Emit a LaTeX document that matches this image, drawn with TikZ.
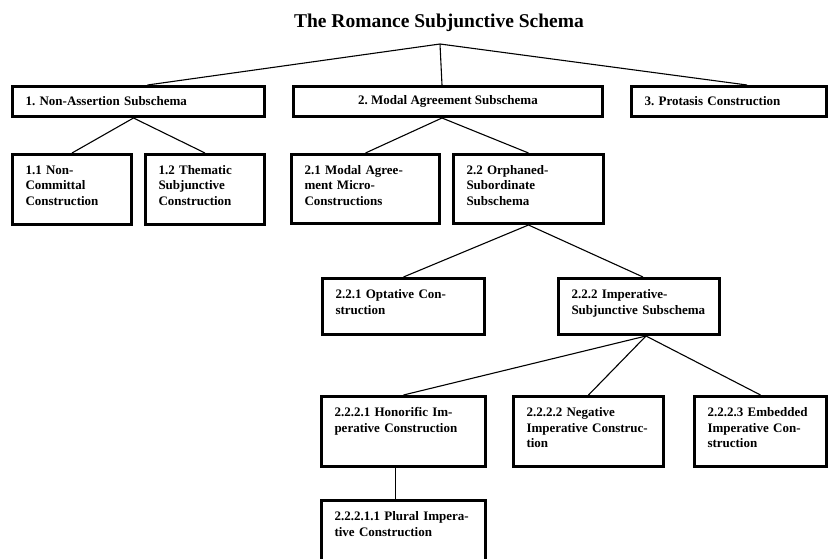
\documentclass[tikz,border=0pt]{standalone}
\usepackage{fontspec}
\setmainfont{Liberation Serif}
\frenchspacing
\begin{document}
\begin{tikzpicture}[
                x=1pt, y=-1pt,
                every node/.style={font=\bfseries\fontsize{13}{15.5}\selectfont},
                headbox/.style={draw, line width=3pt, anchor=north west, minimum height=30pt, inner xsep=13pt},
                schemabox/.style 2 args={draw, line width=3pt, anchor=north west, align=left,
                    text width=#1, text height=14pt, text depth=#2, inner xsep=13pt, inner ysep=6pt},
                link/.style={line width=1.1pt}
                ]
                \useasboundingbox (0,0) rectangle (831,559);
                \clip (0,0) rectangle (831,559);
                % Title and top level
                \node[font=\bfseries\fontsize{19.5}{21}\selectfont] (title) at (439,23) {The Romance Subjunctive Schema};
                \coordinate (apex) at (440,44);
                \node[headbox, align=left, text width=226pt] (na) at (11,85) {1. Non-Assertion Subschema};
                \node[headbox, minimum width=309pt] (ma) at (292,85) {2. Modal Agreement Subschema};
                \node[headbox, align=left, text width=169pt] (pc) at (630,85) {3. Protasis Construction};
                % Second level
                \node[schemabox={93pt}{44pt}] (nc) at (11,153) {1.1 Non-\\Committal\\Construction};
                \node[schemabox={93pt}{44pt}] (ts) at (144,153) {1.2 Thematic\\Subjunctive\\Construction};
                \node[schemabox={122pt}{43pt}] (mam) at (290,153) {2.1 Modal Agree-\\ment Micro-\\Constructions};
                \node[schemabox={124pt}{43pt}] (os) at (452,153) {2.2 Orphaned-\\Subordinate\\Subschema};
                % Orphaned-subordinate branch
                \node[schemabox={136pt}{30pt}] (oc) at (321,277) {2.2.1 Optative Con-\\struction};
                \node[schemabox={135pt}{30pt}] (is) at (557,277) {2.2.2 Imperative-\\Subjunctive~Subschema};
                \node[schemabox={138pt}{44pt}] (hi) at (320,395) {2.2.2.1 Honorific Im-\\perative Construction};
                \node[schemabox={124pt}{44pt}] (ni) at (512,395) {2.2.2.2 Negative\\Imperative~Construc-\\tion};
                \node[schemabox={106pt}{44pt}] (ei) at (693,395) {2.2.2.3 Embedded\\Imperative Con-\\struction};
                \node[schemabox={138pt}{40pt}] (pi) at (320,499) {2.2.2.1.1 Plural Impera-\\tive Construction};
                % Connectors
                \draw[link] (apex) -- ([xshift=9pt]na.north);
                \draw[link] (apex) -- ([xshift=-6pt]ma.north);
                \draw[link] (apex) -- ([xshift=18pt]pc.north);
                \draw[link] ([xshift=-5pt]na.south) -- (nc.north);
                \draw[link] ([xshift=-5pt]na.south) -- (ts.north);
                \draw[link] ([xshift=-6pt]ma.south) -- (mam.north);
                \draw[link] ([xshift=-6pt]ma.south) -- (os.north);
                \draw[link] (os.south) -- (oc.north);
                \draw[link] (os.south) -- ([xshift=4pt]is.north);
                \draw[link] ([xshift=7pt]is.south) -- (hi.north);
                \draw[link] ([xshift=7pt]is.south) -- (ni.north);
                \draw[link] ([xshift=7pt]is.south) -- (ei.north);
                \draw[link] ([xshift=-8pt]hi.south) -- ([xshift=-8pt]pi.north);
\end{tikzpicture}
\end{document}
